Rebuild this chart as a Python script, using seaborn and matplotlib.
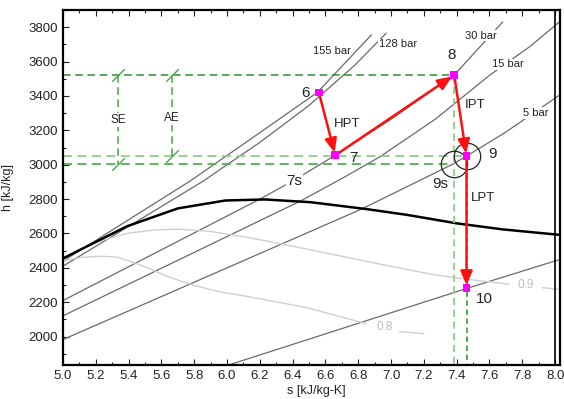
import numpy as np
import pandas as pd
import matplotlib
matplotlib.use("Agg")
import matplotlib.pyplot as plt
import seaborn as sns

# saturated vapour line
sat_s = [5.0, 5.39, 5.70, 5.99, 6.23, 6.51, 6.85, 7.10, 7.40, 7.68, 8.05]
sat_h = [2455, 2642, 2746, 2792, 2798, 2782, 2742, 2708, 2659, 2624, 2590]

# isobars
p155_s = [5.0, 5.30, 5.77, 6.10, 6.55, 6.88]
p155_h = [2439, 2620, 2902, 3120, 3420, 3755]
p128_s = [5.0, 5.45, 5.85, 6.20, 6.50, 6.78, 6.97]
p128_h = [2410, 2670, 2902, 3130, 3345, 3580, 3765]
p30_s = [5.0, 6.20, 6.40, 6.66, 7.00, 7.385, 7.68]
p30_h = [2210, 2800, 2905, 3055, 3265, 3522, 3830]
p15_s = [5.0, 6.45, 6.71, 6.93, 7.27, 7.60, 7.85, 8.05]
p15_h = [2121, 2790, 2925, 3045, 3265, 3520, 3690, 3850]
p5_s = [5.0, 6.82, 7.05, 7.38, 7.46, 7.70, 8.05]
p5_h = [1983, 2742, 2850, 3005, 3050, 3190, 3420]
pc_s = [6.0, 7.46, 8.05]
pc_h = [1832, 2280, 2455]

# quality lines (split where the label sits)
x09a_s = [5.15, 5.24, 5.39, 5.55, 5.70, 5.90, 6.14, 6.49, 6.93, 7.24, 7.40, 7.72]
x09a_h = [2530, 2560, 2601, 2620, 2625, 2612, 2575, 2509, 2422, 2364, 2341, 2305]
x09b_s = [7.92, 8.05]
x09b_h = [2285, 2272]
x08a_s = [5.0, 5.12, 5.24, 5.33, 5.45, 5.56, 5.65, 5.80, 5.95, 6.10, 6.49, 6.85]
x08a_h = [2443, 2462, 2468, 2462, 2425, 2382, 2345, 2298, 2262, 2238, 2168, 2075]
x08b_s = [7.05, 7.20]
x08b_h = [2030, 2017]

# cycle states
state_names = ["6", "7", "8", "9", "10"]
state_s = [6.56, 6.66, 7.385, 7.46, 7.46]
state_h = [3420, 3055, 3522, 3050, 2283]
s7s, h7s = 6.56, 3002
s9s, h9s = 7.385, 3004
s_se, s_ae = 5.335, 5.665

sns.set_theme(style="ticks")
plt.rcParams["font.family"] = ["Liberation Sans", "DejaVu Sans"]

fig = plt.figure(figsize=(5.64, 3.99), dpi=100)
ax = fig.add_axes([0.1117, 0.0852, 0.8812, 0.8897])

iso = pd.concat([
    pd.DataFrame({"s": s, "h": h, "line": name})
    for name, s, h in [("155", p155_s, p155_h), ("128", p128_s, p128_h),
                       ("30", p30_s, p30_h), ("15", p15_s, p15_h),
                       ("5", p5_s, p5_h), ("cond", pc_s, pc_h)]
])
sns.lineplot(data=iso, x="s", y="h", units="line", estimator=None, sort=False,
             color="#6a6a6a", lw=0.9, ax=ax, legend=False)

qual = pd.concat([
    pd.DataFrame({"s": s, "h": h, "line": name})
    for name, s, h in [("09a", x09a_s, x09a_h), ("09b", x09b_s, x09b_h),
                       ("08a", x08a_s, x08a_h), ("08b", x08b_s, x08b_h)]
])
sns.lineplot(data=qual, x="s", y="h", units="line", estimator=None, sort=False,
             color="#cfcfcf", lw=1.0, ax=ax, legend=False)

sns.lineplot(x=sat_s, y=sat_h, sort=False, color="black", lw=1.8, ax=ax)

# green construction lines
s8, h8 = state_s[2], state_h[2]
s9, h9 = state_s[3], state_h[3]
ybot = 1835
ax.plot([5.0, s8], [h8, h8], color="#2f8f2f", lw=1.1, dashes=(5, 3))
ax.plot([5.0, s9], [h9, h9], color="#8ad08a", lw=1.3, dashes=(5, 3))
ax.plot([5.0, s9s], [h9s, h9s], color="#4db34d", lw=1.3, dashes=(5, 3))
ax.plot([s8, s8], [h8, ybot], color="#8ad08a", lw=1.3, dashes=(4, 2.5))
ax.plot([s9, s9], [h9, ybot], color="#3ca83c", lw=1.3, dashes=(3, 2))

slash = [(-1, -1), (1, 1)]
ax.plot([s_se, s_se], [h8, h9s], color="#44a844", lw=1.1, dashes=(5, 3),
        marker=slash, ms=9, mew=1.0)
ax.plot([s_ae, s_ae], [h8, h9], color="#44a844", lw=1.1, dashes=(5, 3),
        marker=slash, ms=9, mew=1.0)

# process arrows
for i in range(len(state_s) - 1):
    ax.annotate("", xy=(state_s[i + 1], state_h[i + 1]),
                xytext=(state_s[i], state_h[i]),
                arrowprops=dict(arrowstyle="-|>,head_length=0.7,head_width=0.3",
                                color="#ff1010", lw=1.8, shrinkA=0, shrinkB=2),
                zorder=6)

sns.scatterplot(x=state_s, y=state_h, marker="s", color="#ff00ff", s=32,
                edgecolor="none", zorder=7, ax=ax)
ax.plot([s9s, s9], [h9s, h9], "o", mfc="none", mec="#222222", ms=19, mew=0.9)

# text
wb = dict(fc="white", ec="none", pad=0.6)
txt = dict(ha="center", va="center", color="#222222")
ax.text(6.476, 3416, "6", fontsize=11, **txt)
ax.text(6.77, 3040, "7", fontsize=11, **txt)
ax.text(7.37, 3636, "8", fontsize=11, **txt)
ax.text(7.62, 3064, "9", fontsize=11, **txt)
ax.text(7.57, 2220, "10", fontsize=11, **txt)
ax.text(6.41, 2908, "7s", fontsize=11, bbox=wb, zorder=4, **txt)
ax.text(7.30, 2890, "9s", fontsize=11, **txt)
ax.text(6.73, 3237, "HPT", fontsize=9.5, **txt)
ax.text(7.51, 3347, "IPT", fontsize=9.5, bbox=wb, zorder=4, **txt)
ax.text(7.56, 2809, "LPT", fontsize=9.5, **txt)
ax.text(s_se, 3260, "SE", fontsize=8.5, bbox=wb, zorder=4, **txt)
ax.text(s_ae, 3272, "AE", fontsize=8.5, bbox=wb, zorder=4, **txt)
ax.text(6.64, 3659, "155 bar", fontsize=8, **txt)
ax.text(7.04, 3700, "128 bar", fontsize=8, bbox=wb, zorder=4, **txt)
ax.text(7.55, 3751, "30 bar", fontsize=8, bbox=wb, zorder=4, **txt)
ax.text(7.71, 3584, "15 bar", fontsize=8, bbox=wb, zorder=4, **txt)
ax.text(7.88, 3300, "5 bar", fontsize=8, bbox=wb, zorder=4, **txt)
ax.text(7.82, 2300, "0.9", fontsize=8.5, ha="center", va="center", color="#bdbdbd")
ax.text(6.96, 2055, "0.8", fontsize=8.5, ha="center", va="center", color="#bdbdbd")

ax.axvline(8.0, color="black", lw=1.2)

ax.set_xlim(5.0, 8.03)
ax.set_ylim(1835, 3890)
ax.set_xticks(np.arange(5.0, 8.01, 0.2))
ax.set_xticklabels([f"{v:.1f}" for v in np.arange(5.0, 8.01, 0.2)])
ax.set_xticks(np.arange(5.0, 8.01, 0.1), minor=True)
ax.set_yticks(np.arange(2000, 3801, 200))
ax.set_yticks(np.arange(1900, 3901, 100), minor=True)
ax.tick_params(axis="both", which="both", direction="in", top=True, right=False,
               labelsize=9.5, colors="#222222")
ax.tick_params(which="major", length=4, width=0.8)
ax.tick_params(which="minor", length=2.5, width=0.8)
for sp in ax.spines.values():
    sp.set_linewidth(1.6)
    sp.set_color("black")

ax.set_xlabel("s [kJ/kg-K]", fontsize=9, color="#222222")
ax.set_ylabel("h [kJ/kg]", fontsize=9, color="#222222")
ax.xaxis.set_label_coords(0.51, -0.055)
ax.yaxis.set_label_coords(-0.099, 0.5)

fig.savefig("out.png", dpi=100)
